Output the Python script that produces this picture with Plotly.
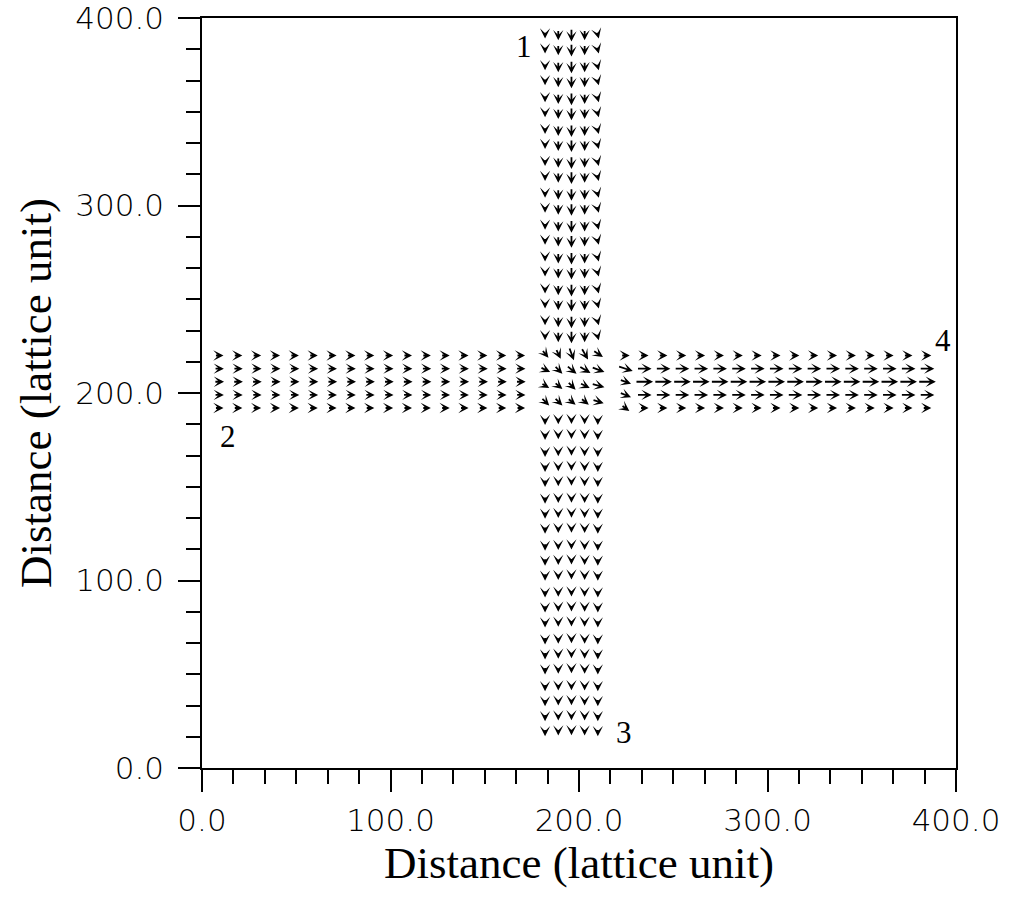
import plotly.graph_objects as go

# ---- axis ticks -------------------------------------------------------------
MAJOR_TICKS = [0, 100, 200, 300, 400]
TICK_TEXT = ["0.0", "100.0", "200.0", "300.0", "400.0"]
MINOR_STEP = 100 / 6

# ---- lattice sample positions -------------------------------------------------
# vertical channel (branch 1 on top, branch 3 at the bottom)
X_VERT = [182, 189, 196, 203, 210]
Y_TOP = [391, 383, 374, 366, 357, 349, 340, 332, 323, 315,
         306, 298, 289, 281, 272, 264, 255, 247, 238, 230]
Y_BOTTOM = [185, 177, 168, 160, 152, 143, 135, 127, 118, 110, 102,
            93, 85, 77, 68, 60, 52, 43, 35, 27, 19]
# horizontal channel (branch 2 on the left, branch 4 on the right)
Y_HORZ = [220, 213, 206, 199, 192]
X_LEFT = [9, 19, 29, 39, 49, 59, 69, 79, 89, 99, 109, 119, 129, 139, 149, 159, 169]
X_RIGHT = [234.5, 244.5, 254.5, 264.5, 274.5, 284.5, 294.5, 304.5, 314.5,
           324.5, 334.5, 344.5, 354.5, 364.5, 374.5, 384.5]

# ---- velocity profiles across each branch (lattice units) ----------------------
U_TOP = [0.0, 0.0, 0.0, 0.0, 0.005]
V_TOP = [-0.019, -0.029, -0.035, -0.029, -0.019]
U_BOTTOM = [0.0, 0.0, 0.0, 0.0, 0.0]
V_BOTTOM = [-0.021, -0.017, -0.015, -0.017, -0.021]
U_LEFT = [0.024, 0.026, 0.027, 0.026, 0.024]
V_LEFT = [0.0, 0.0, 0.0, 0.0, 0.0]
U_RIGHT = [0.024, 0.040, 0.048, 0.040, 0.024]
V_RIGHT = [0.0, 0.0, 0.0, 0.0, 0.0]

# ---- junction region ----------------------------------------------------------
JX = [182, 189, 196, 203, 210,
      182, 189, 196, 203, 210,
      182, 189, 196, 203, 210,
      182, 189, 196, 203, 210,
      224.5, 224.5, 224.5, 224.5, 224.5]
JY = [221, 221, 221, 221, 221,
      212.5, 212.5, 212.5, 212.5, 212.5,
      204, 204, 204, 204, 204,
      195.5, 195.5, 195.5, 195.5, 195.5,
      220, 213, 206, 199, 192]
JU = [0.018, 0.013, 0.013, 0.018, 0.027,
      0.027, 0.022, 0.027, 0.031, 0.035,
      0.022, 0.022, 0.022, 0.027, 0.035,
      0.022, 0.022, 0.022, 0.022, 0.031,
      0.024, 0.040, 0.031, 0.031, 0.022]
JV = [-0.022, -0.027, -0.035, -0.031, -0.018,
      -0.013, -0.022, -0.022, -0.018, -0.013,
      -0.013, -0.018, -0.022, -0.013, -0.009,
      -0.022, -0.022, -0.018, -0.018, -0.009,
      0.0, -0.013, -0.011, -0.013, -0.016]

# branch labels
LABEL_TEXT = ["1", "2", "3", "4"]
LABEL_X = [171, 14, 224, 393]
LABEL_Y = [385, 177, 19, 228]

SCALE = 200  # data units of arrow length per lattice velocity unit

# collect all vectors
vx, vy, vu, vv = [], [], [], []
for y in Y_TOP:
    for i, x in enumerate(X_VERT):
        vx.append(x); vy.append(y); vu.append(U_TOP[i]); vv.append(V_TOP[i])
for y in Y_BOTTOM:
    for i, x in enumerate(X_VERT):
        vx.append(x); vy.append(y); vu.append(U_BOTTOM[i]); vv.append(V_BOTTOM[i])
for x in X_LEFT:
    for j, y in enumerate(Y_HORZ):
        vx.append(x); vy.append(y); vu.append(U_LEFT[j]); vv.append(V_LEFT[j])
for x in X_RIGHT:
    for j, y in enumerate(Y_HORZ):
        vx.append(x); vy.append(y); vu.append(U_RIGHT[j]); vv.append(V_RIGHT[j])
vx += JX; vy += JY; vu += JU; vv += JV

annotations = []
for x, y, u, v in zip(vx, vy, vu, vv):
    dx, dy = u * SCALE, v * SCALE
    annotations.append(dict(
        x=x + dx / 2, y=y + dy / 2, ax=x - dx / 2, ay=y - dy / 2,
        xref="x", yref="y", axref="x", ayref="y",
        text="", showarrow=True, arrowhead=3, arrowsize=0.95,
        arrowwidth=1.8, arrowcolor="black", standoff=0, startstandoff=0,
    ))

for t, x, y in zip(LABEL_TEXT, LABEL_X, LABEL_Y):
    annotations.append(dict(
        x=x, y=y, xref="x", yref="y", text=t, showarrow=False,
        font=dict(family="Liberation Serif", size=31, color="black"),
    ))

fig = go.Figure()
# invisible trace to carry the axes
fig.add_trace(go.Scatter(x=[0, 400], y=[0, 400], mode="markers",
                         marker=dict(opacity=0), hoverinfo="skip", showlegend=False))

tick_font = dict(family="DejaVu Sans", size=31, color="black", weight=200)
title_font = dict(family="Liberation Serif", size=45, color="black")

axis_common = dict(
    range=[0, 400], tickvals=MAJOR_TICKS, ticktext=TICK_TEXT,
    showgrid=False, zeroline=False, automargin=False,
    showline=True, linecolor="black", linewidth=1.5, mirror=True,
    ticks="outside", ticklen=22, tickwidth=1.5, tickcolor="black",
    minor=dict(dtick=MINOR_STEP, tick0=0, ticks="outside", ticklen=14,
               tickwidth=1.5, tickcolor="black", showgrid=False),
    tickfont=tick_font, ticklabeloverflow="allow",
)

fig.update_layout(
    width=1011, height=915,
    margin=dict(l=202, r=55, t=18, b=147),
    paper_bgcolor="white", plot_bgcolor="white",
    xaxis=dict(**axis_common, ticklabelstandoff=2,
               title=dict(text="Distance (lattice unit)", font=title_font, standoff=6)),
    yaxis=dict(**axis_common, ticklabelstandoff=8,
               title=dict(text="Distance (lattice unit)", font=title_font, standoff=10)),
    annotations=annotations,
    showlegend=False,
)

fig.write_html("out.html")
